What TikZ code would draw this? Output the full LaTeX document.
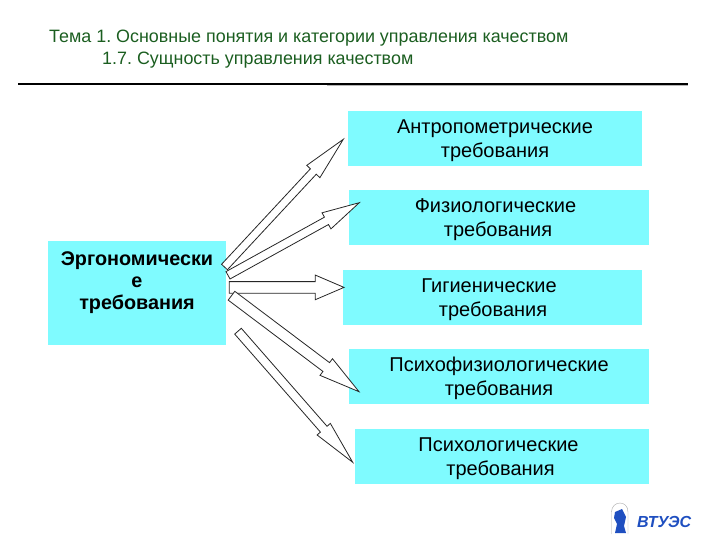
\documentclass[tikz,border=0pt]{standalone}
\usepackage{fontspec}
\setmainfont{Liberation Sans}
\usetikzlibrary{calc}
\definecolor{colCyan}    {HTML}{7FFBFF}
\definecolor{colGreen}   {HTML}{1B5E20}
\definecolor{colLogo}    {HTML}{1F4FC0}
\definecolor{colShadow}  {HTML}{B5B5B5}
\tikzset{
  reqbox/.style={
    fill=colCyan, draw=none, align=center, inner sep=0pt, text depth=-2pt,
    font=\frenchspacing\fontsize{20}{24.5}\selectfont
  },
  rootbox/.style={
    reqbox, text depth=24pt, font=\frenchspacing\fontsize{19.8}{22}\selectfont\bfseries
  },
  titletext/.style={
    anchor=base west, inner sep=0pt, text=colGreen,
    font=\frenchspacing\fontsize{17.9}{20}\selectfont
  },
  blockarr/.style={
    fill=white, draw=black!85, line width=0.8pt, line join=miter
  }
}
\newcommand{\blockarrow}[5]{%
  \coordinate (neck) at ($(#2)!#5pt!(#1)$);
  \draw[blockarr] ($(#1)!#3pt!90:(#2)$) -- ($(neck)!#3pt!-90:(#1)$)
    -- ($(neck)!#4pt!-90:(#1)$) -- (#2) -- ($(neck)!#4pt!90:(#1)$)
    -- ($(neck)!#3pt!90:(#1)$) -- ($(#1)!#3pt!-90:(#2)$) -- cycle;
}
\begin{document}
\begin{tikzpicture}[x=1pt, y=-1pt]
  \useasboundingbox (0,0) rectangle (720,540);
  % title
  \node[titletext] (tema) at (49,43) {Тема 1. Основные понятия и категории управления качеством};
  \node[titletext] (sub) at (102,64.5) {1.7. Сущность управления качеством};
  \coordinate (ruleL) at (18,84.5);
  \coordinate (ruleR) at (688,84.5);
  \coordinate (shadeL) at (327,86);
  \coordinate (shadeR) at (688,86);
  \draw[colShadow, line width=1pt] (shadeL) -- (shadeR);
  \draw[line width=2pt] (ruleL) -- (ruleR);
  % boxes
  \node[rootbox, minimum width=178pt, minimum height=104pt] (root) at (137,293)
    {Эргономически\\е\\требования};
  \node[reqbox, minimum width=294pt, minimum height=55pt] (antro) at (495,138.5)
    {Антропометрические\\требования};
  \node[reqbox, minimum width=300pt, minimum height=55pt] (fiz) at (499,217.5)
    {\hspace*{-7pt}Физиологические\\\hspace*{-2pt}требования};
  \node[reqbox, minimum width=299pt, minimum height=55pt] (gig) at (492.5,297.5)
    {\hspace*{-7pt}Гигиенические\\\hspace*{1pt}требования};
  \node[reqbox, minimum width=300pt, minimum height=55pt] (psf) at (499,376.5)
    {Психофизиологические\\требования};
  \node[reqbox, minimum width=294pt, minimum height=55pt] (psi) at (502,456.5)
    {\hspace*{-7pt}Психологические\\\hspace*{-3pt}требования};
  % arrows
  \coordinate (t1) at (224.5,267);   \coordinate (h1) at (343.3,139.3);
  \coordinate (t2) at (228,275.3);   \coordinate (h2) at (359.3,202.7);
  \coordinate (t3) at (229.3,287.4); \coordinate (h3) at (344,287.4);
  \coordinate (t4) at (231.5,295.7); \coordinate (h4) at (359,391.7);
  \coordinate (t5) at (238,331.2);   \coordinate (h5) at (352.7,462.3);
  \blockarrow{t1}{h1}{4}{9}{44}
  \blockarrow{t2}{h2}{4.2}{9.2}{37.5}
  \blockarrow{t3}{h3}{5.8}{12.3}{28.7}
  \blockarrow{t4}{h4}{5.5}{10.4}{41}
  \blockarrow{t5}{h5}{4.4}{8.8}{44}
  % logo
  \draw[black!35, line width=0.4pt] (611.5,534) -- (611.5,512) .. controls (611.5,506) and (616,503) .. (620,503)
    .. controls (624,503) and (628,506) .. (628,512) -- (628,534);
  \fill[colLogo] (615,512) -- (622,509) -- (626,517) -- (624,526) -- (626,533) -- (615,533) -- (617,524) -- (614,518) -- cycle;
  \node[anchor=base west, inner sep=0pt, text=colLogo, font=\fontsize{16}{16}\selectfont\bfseries\itshape] (logo) at (637,527) {ВТУЭС};
\end{tikzpicture}
\end{document}
